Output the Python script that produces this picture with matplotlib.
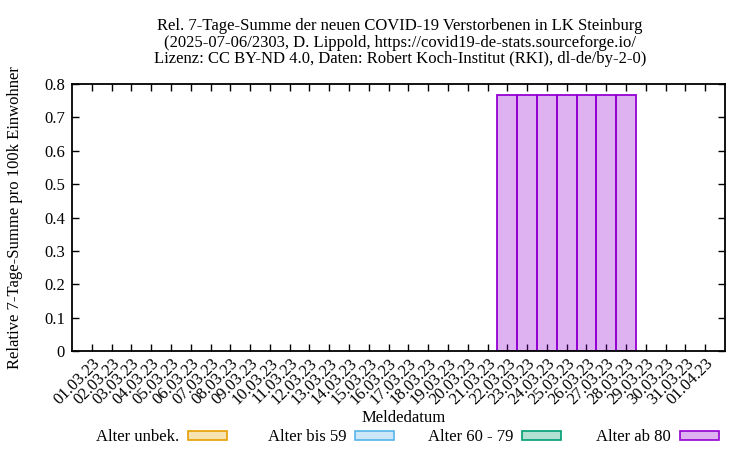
import matplotlib
matplotlib.use("Agg")
import matplotlib.pyplot as plt
from matplotlib.patches import Rectangle

plt.rcParams['font.family'] = ['Liberation Serif', 'DejaVu Serif']
plt.rcParams['font.size'] = 12

dates = ["01.03.23", "02.03.23", "03.03.23", "04.03.23", "05.03.23", "06.03.23", "07.03.23",
         "08.03.23", "09.03.23", "10.03.23", "11.03.23", "12.03.23", "13.03.23", "14.03.23",
         "15.03.23", "16.03.23", "17.03.23", "18.03.23", "19.03.23", "20.03.23", "21.03.23",
         "22.03.23", "23.03.23", "24.03.23", "25.03.23", "26.03.23", "27.03.23", "28.03.23",
         "29.03.23", "30.03.23", "31.03.23", "01.04.23"]
alter_unbek = [0.0] * 32
alter_bis_59 = [0.0] * 32
alter_60_79 = [0.0] * 32
alter_ab_80 = [0.0] * 21 + [0.766] * 7 + [0.0] * 4

series_labels = ["Alter unbek.", "Alter bis 59", "Alter 60 - 79", "Alter ab 80"]
series_colors = ["#e69f00", "#56b4e9", "#009e73", "#9400d3"]
series_values = [alter_unbek, alter_bis_59, alter_60_79, alter_ab_80]

yticks = [0, 0.1, 0.2, 0.3, 0.4, 0.5, 0.6, 0.7, 0.8]
ytick_labels = ["0", "0.1", "0.2", "0.3", "0.4", "0.5", "0.6", "0.7", "0.8"]

fig = plt.figure(figsize=(7.5, 4.5), dpi=100)
ax = fig.add_axes([72/750, 1-351/450, (725-72)/750, (351-84)/450])

x = list(range(len(dates)))
bottom = [0.0] * len(dates)
for vals, col in zip(series_values, series_colors):
    xs = [i for i, v in zip(x, vals) if v > 0]
    hs = [v for v in vals if v > 0]
    bs = [b for b, v in zip(bottom, vals) if v > 0]
    if xs:
        ax.bar(xs, hs, bottom=bs, width=1.0, facecolor=matplotlib.colors.to_rgba(col, 0.3),
               edgecolor=col, linewidth=1.3, zorder=2)
    bottom = [b + v for b, v in zip(bottom, vals)]

ax.set_xlim(-1, len(dates))
ax.set_ylim(0, 0.8)
ax.set_xticks(x)
ax.set_xticklabels(dates, rotation=45, ha='right', va='top', rotation_mode='anchor')
ax.set_yticks(yticks)
ax.set_yticklabels(ytick_labels)
ax.tick_params(direction='in', length=5, width=1, top=True, right=True, pad=5)
ax.tick_params(axis='x', pad=3)
for s in ax.spines.values():
    s.set_linewidth(1.3)
    s.set_zorder(5)

fig.text(400/750, 1-18/450,
         "Rel. 7-Tage-Summe der neuen COVID-19 Verstorbenen in LK Steinburg\n"
         "(2025-07-06/2303, D. Lippold, https://covid19-de-stats.sourceforge.io/\n"
         "Lizenz: CC BY-ND 4.0, Daten: Robert Koch-Institut (RKI), dl-de/by-2-0)",
         ha='center', va='top', linespacing=1.05)
fig.text(15/750, 1-218/450, "Relative 7-Tage-Summe pro 100k Einwohner",
         rotation=90, ha='center', va='center')
fig.text(404/750, 1-418/450, "Meldedatum", ha='center', va='center')

text_right = [179, 346, 513, 671]
for lab, col, tr in zip(series_labels, series_colors, text_right):
    fig.text(tr/750, 1-437/450, lab, ha='right', va='center')
    fig.patches.append(Rectangle(((tr+9)/750, 1-440/450), 39/750, 9/450,
                                 transform=fig.transFigure, facecolor=matplotlib.colors.to_rgba(col, 0.3),
                                 edgecolor=col, linewidth=1.2))

fig.savefig("out.png", dpi=100)
